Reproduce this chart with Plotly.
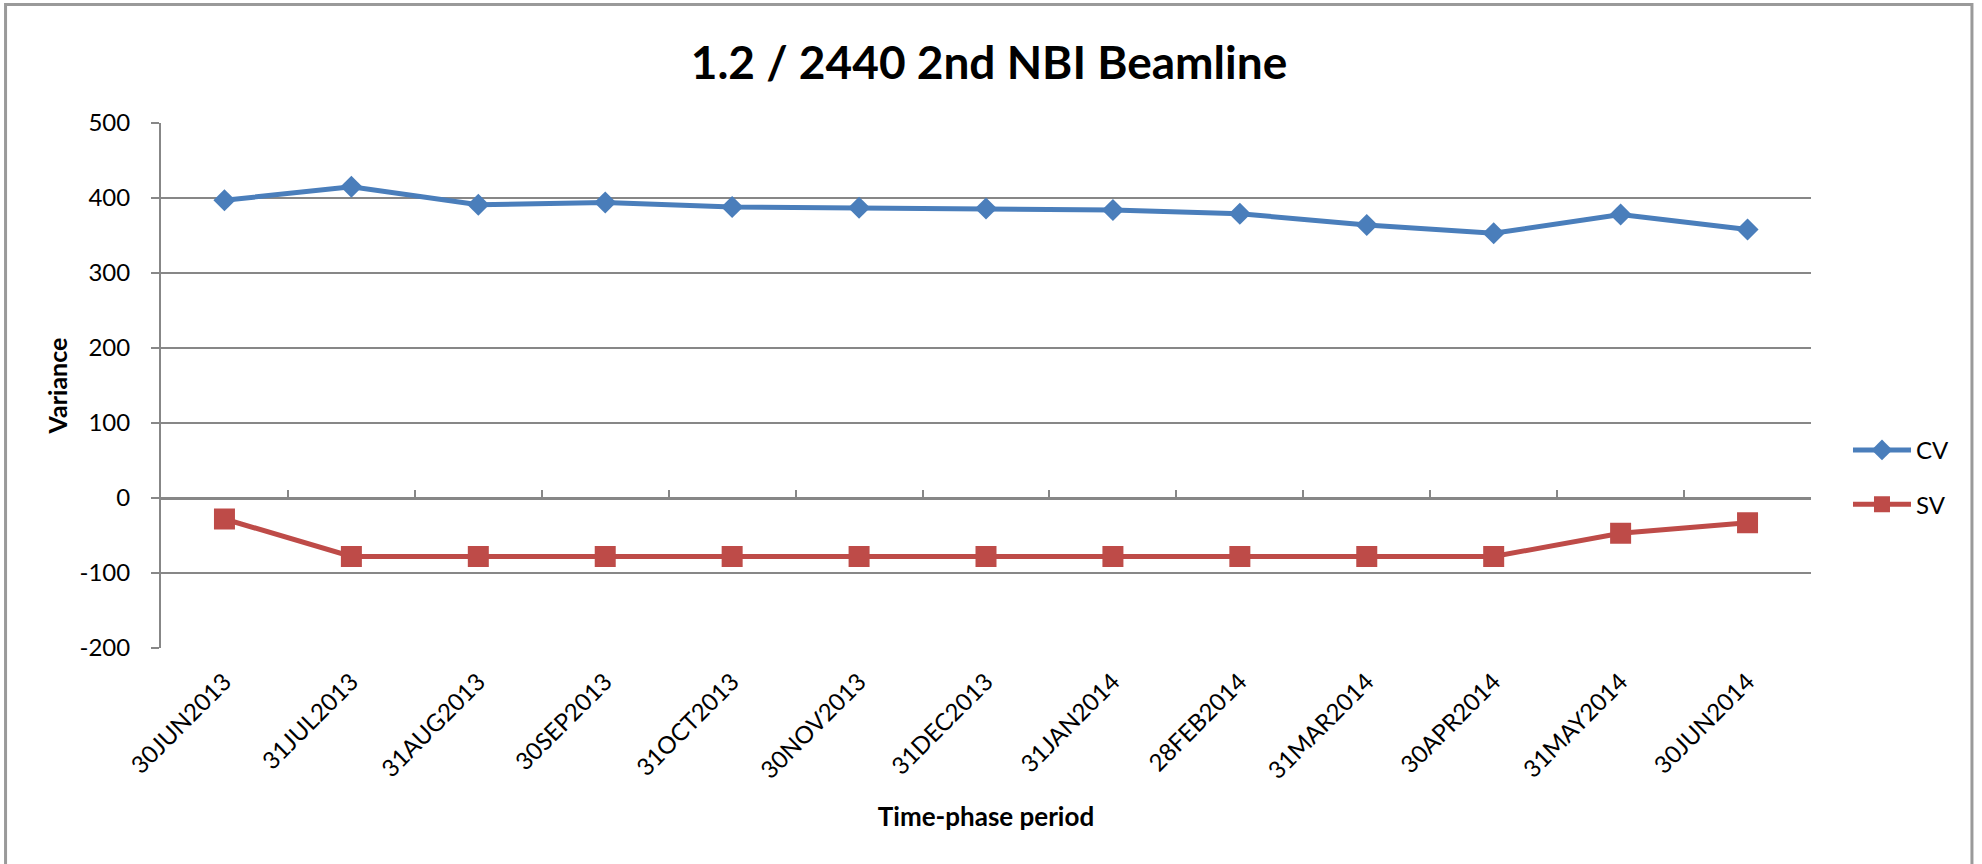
import plotly.graph_objects as go

categories = ["30JUN2013", "31JUL2013", "31AUG2013", "30SEP2013", "31OCT2013",
              "30NOV2013", "31DEC2013", "31JAN2014", "28FEB2014", "31MAR2014",
              "30APR2014", "31MAY2014", "30JUN2014"]
cv_values = [397, 415, 391, 394, 388, 387, 386, 384, 379, 364, 353, 378, 358]
sv_values = [-28, -78, -78, -78, -78, -78, -78, -78, -78, -78, -78, -47, -33]
y_ticks = [-200, -100, 0, 100, 200, 300, 400, 500]
y_tick_labels = [str(v) for v in y_ticks]

W, H = 1982, 864
L, R, T, B = 160.5, 1811, 122.6, 647.7
pw, ph = R - L, B - T

FONT = "Lato"
GRID = "#878787"

def px2x(px):
    return (px - L) / pw

def px2y(py):
    return (B - py) / ph

fig = go.Figure()
fig.add_trace(go.Scatter(
    x=categories, y=cv_values, name="CV", mode="lines+markers",
    line=dict(color="#4A7EBB", width=5),
    marker=dict(symbol="diamond", size=17, color="#4A7EBB"),
    legendgroup="cv",
))
fig.add_trace(go.Scatter(
    x=categories, y=sv_values, name="SV", mode="lines+markers",
    line=dict(color="#BE4B48", width=5),
    marker=dict(symbol="square", size=21, color="#BE4B48"),
    legendgroup="sv", xaxis="x2",
))

fig.update_layout(
    template="none",
    width=W, height=H,
    margin=dict(l=L, r=W - R, t=T, b=H - B, autoexpand=False),
    paper_bgcolor="white", plot_bgcolor="white",
    font=dict(family=FONT, size=24, color="black"),
    title=dict(text="<b>1.2 / 2440 2nd NBI Beamline</b>",
               font=dict(family=FONT, size=46, color="black"),
               x=989 / W, xanchor="center",
               y=1 - 63 / H, yanchor="middle", xref="container", yref="container"),
    xaxis=dict(
        type="category", categoryorder="array", categoryarray=categories,
        range=[-0.5, len(categories) - 0.5], automargin=False,
        showgrid=False, showline=False, zeroline=False,
        ticks="", tickangle=-45, ticklabelstandoff=14,
        tickfont=dict(family=FONT, size=24),
        title=dict(text="<b>Time-phase period</b>", font=dict(family=FONT, size=26),
                   standoff=24),
    ),
    xaxis2=dict(
        type="category", matches="x", overlaying="x", anchor="free",
        position=(0 - y_ticks[0]) / (y_ticks[-1] - y_ticks[0]), side="bottom",
        showgrid=False, zeroline=False, showline=True, linecolor=GRID, linewidth=2.5,
        ticks="inside", tickson="boundaries", ticklen=7, tickwidth=1.5, tickcolor=GRID,
        showticklabels=False, automargin=False,
    ),
    yaxis=dict(
        range=[y_ticks[0], y_ticks[-1]], tickvals=y_ticks, ticktext=y_tick_labels,
        zeroline=False, automargin=False,
        showgrid=True, gridcolor=GRID, gridwidth=2,
        showline=True, linecolor=GRID, linewidth=2,
        ticks="outside", ticklen=8, tickcolor=GRID, tickwidth=2,
        ticklabelstandoff=16,
        tickfont=dict(family=FONT, size=24),
        title=dict(text="<b>Variance</b>", font=dict(family=FONT, size=25), standoff=5),
    ),
    legend=dict(
        x=px2x(1848), xanchor="left", y=px2y(477), yanchor="middle",
        font=dict(family=FONT, size=24), itemwidth=58,
        traceorder="grouped", tracegroupgap=20, bgcolor="rgba(0,0,0,0)",
    ),
    showlegend=True,
    shapes=[dict(type="rect", xref="paper", yref="paper",
                 x0=px2x(5), x1=px2x(1972), y0=px2y(900), y1=px2y(4),
                 line=dict(color="#9A9A9A", width=3), layer="below")],
)

fig.write_html("out.html", config={"displayModeBar": False},
               post_script="document.body.style.margin='0';")
